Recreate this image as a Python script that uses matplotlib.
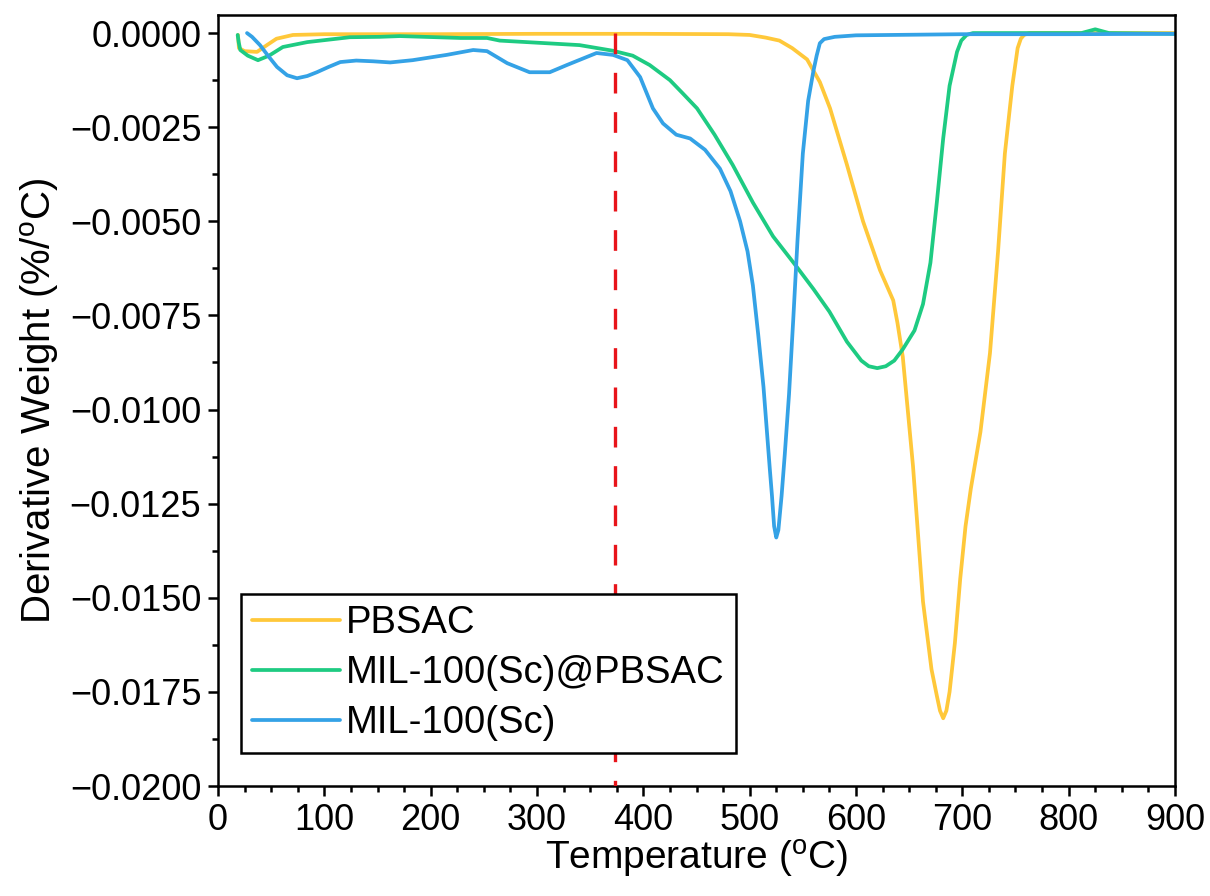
import matplotlib
matplotlib.use("Agg")
import matplotlib.pyplot as plt
from matplotlib.ticker import MultipleLocator, FuncFormatter

plt.rcParams['font.family'] = ['Liberation Sans', 'DejaVu Sans']
plt.rcParams['mathtext.fontset'] = 'custom'
plt.rcParams['mathtext.rm'] = 'Liberation Sans'

# ---- data ----
temp_pbsac = [18.8, 19.7, 25, 36.7, 46, 55, 70.5, 100, 200, 300, 400, 480, 500, 515, 528,
              540, 554, 566, 575.6, 591.5, 606.6, 622.6, 635, 639, 644, 653.6, 663, 671, 676,
              679, 682, 685, 688, 693, 698, 703, 708, 717, 726, 733.6, 740, 747, 752, 755,
              758, 763, 800, 850, 900]
dw_pbsac = [-0.00005, -0.0004, -0.00048, -0.0005, -0.00032, -0.00015, -0.00005, -0.00003,
            -0.00003, -0.00002, -0.00002, -0.00003, -0.00005, -0.00012, -0.0002,
            -0.0004, -0.0007, -0.0013, -0.0020, -0.0035, -0.0050, -0.0063, -0.0071, -0.0077,
            -0.0086, -0.0115, -0.0151, -0.0169, -0.0176, -0.0180, -0.0182, -0.0180, -0.0175,
            -0.0162, -0.0145, -0.0131, -0.0121, -0.0106, -0.0085, -0.0058, -0.0032, -0.0014,
            -0.0004, -0.00015, -0.00005, 0.0, 0.0, 0.0, 0.0]

temp_comp = [18.5, 19.5, 21, 28, 37.6, 48, 61, 84, 124, 152, 171, 228, 253, 265, 309, 340,
             371.5, 390, 406, 425, 437, 450.5, 467, 484, 503, 522, 544, 560, 575, 591.5, 605,
             612, 620, 628, 636, 644, 655, 663, 670, 676, 682, 688, 695, 699, 704, 710, 720,
             780, 812, 825, 838, 900]
dw_comp = [-0.00005, -0.00025, -0.00045, -0.0006, -0.00072, -0.0006, -0.00037, -0.00024,
           -0.00011, -0.0001, -0.00008, -0.00013, -0.00013, -0.0002, -0.00027, -0.00032,
           -0.00047, -0.0006, -0.00085, -0.00125, -0.0016, -0.0020, -0.0027, -0.0035, -0.0045,
           -0.0054, -0.0062, -0.0068, -0.0074, -0.0082, -0.0087, -0.00885, -0.0089, -0.00885,
           -0.0087, -0.0084, -0.0079, -0.0072, -0.0061, -0.0045, -0.0028, -0.0014, -0.0005,
           -0.0002, -0.00005, 0.0, 0.0, 0.0, 0.0, 0.0001, 0.0, -0.00002]

temp_mil = [27.3, 32, 39.5, 47, 55.5, 65, 74.3, 84, 93, 104, 115, 130, 146, 162, 183, 215,
            240, 253, 272, 293, 312, 328, 356, 371.5, 385, 397, 409, 418.5, 431, 444, 458, 472,
            482, 491, 498, 503, 508, 513, 519, 521, 523, 525, 527, 530, 533, 537, 541, 545,
            550, 555, 560, 563, 566, 570, 580, 600, 700, 800, 900]
dw_mil = [0.0, -0.0001, -0.00032, -0.0006, -0.0009, -0.00112, -0.0012, -0.00114, -0.00104,
          -0.0009, -0.00077, -0.00073, -0.00075, -0.00078, -0.00072, -0.00058,
          -0.00045, -0.00048, -0.0008, -0.00104, -0.00104, -0.00085, -0.00053, -0.00058,
          -0.00072, -0.00117, -0.0020, -0.0024, -0.0027, -0.0028, -0.0031, -0.0036,
          -0.0042, -0.0050, -0.0058, -0.0067, -0.0080, -0.0094, -0.0116, -0.0123, -0.0131,
          -0.0134, -0.0132, -0.0123, -0.0112, -0.0096, -0.0076, -0.0055, -0.0032, -0.0018,
          -0.0010, -0.0006, -0.00027, -0.00016, -0.0001, -0.00006, -0.00003, -0.00003, -0.00002]

series_labels = ['PBSAC', 'MIL-100(Sc)@PBSAC', 'MIL-100(Sc)']
series_colors = ['#FFC83A', '#1ECB82', '#34A2E6']
marker_temp = 373

x_ticks = [0, 100, 200, 300, 400, 500, 600, 700, 800, 900]
y_ticks = [0.0, -0.0025, -0.0050, -0.0075, -0.0100, -0.0125, -0.0150, -0.0175, -0.0200]

# ---- figure ----
fig = plt.figure(figsize=(12.10, 8.96), dpi=100)
ax = fig.add_axes([218/1210, 1 - 786/896, (1175-218)/1210, (786-15)/896])

for t, d, lab, col in zip([temp_pbsac, temp_comp, temp_mil], [dw_pbsac, dw_comp, dw_mil],
                          series_labels, series_colors):
    ax.plot(t, d, color=col, lw=2.7, label=lab, solid_joinstyle='round',
            solid_capstyle='round')

ax.plot([marker_temp, marker_temp], [0.0, -0.02], color='#E8141A', lw=2.4,
        dashes=(6.2, 5.6), zorder=5)

ax.set_xlim(0, 900)
ax.set_ylim(-0.0200, 0.00048)
ax.set_xticks(x_ticks)
ax.set_yticks(y_ticks)
ax.xaxis.set_minor_locator(MultipleLocator(25))
ax.yaxis.set_minor_locator(MultipleLocator(0.00125))
ax.yaxis.set_major_formatter(FuncFormatter(
    lambda v, p: ('%.4f' % v).replace('-', '\u2212') if abs(v) > 1e-12 else '0.0000'))

ax.tick_params(which='major', direction='out', length=7, width=1.8, labelsize=26, pad=5,
               top=False, right=False)
ax.tick_params(which='minor', direction='out', length=4, width=1.8, top=False, right=False)
for s in ax.spines.values():
    s.set_linewidth(1.8)

ax.set_xlabel('Temperature ($\\mathregular{^o}$C)', fontsize=28, labelpad=0)
ax.set_ylabel('Derivative Weight (%/$\\mathregular{^o}$C)', fontsize=29, labelpad=6)

leg = ax.legend(loc='lower left', bbox_to_anchor=(0.024, 0.043), borderaxespad=0,
                fontsize=27.5, frameon=True, fancybox=False, framealpha=1,
                edgecolor='black', handlelength=2.3, handletextpad=0.15,
                borderpad=0.3, labelspacing=0.37)
leg.get_frame().set_linewidth(1.8)
leg.set_zorder(10)

fig.savefig('out.png', dpi=100)
